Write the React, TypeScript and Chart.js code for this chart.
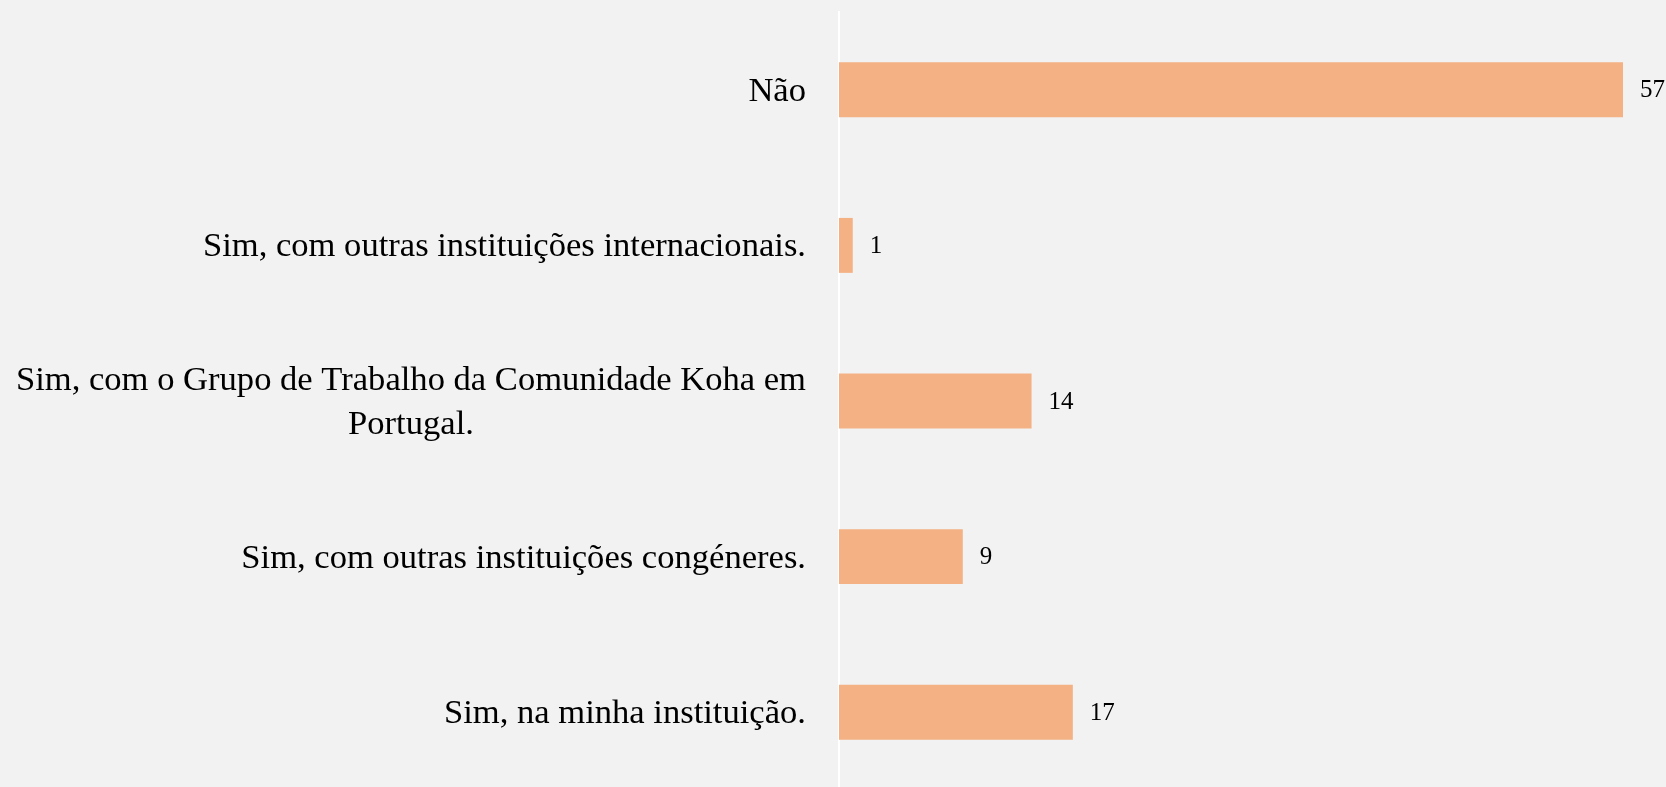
import React, { useEffect, useRef } from "react";
import { Chart, registerables } from "chart.js";

Chart.register(...registerables);

const categories: string[][] = [
  ["Não"],
  ["Sim, com outras instituições internacionais."],
  ["Sim, com o Grupo de Trabalho da Comunidade Koha em", "Portugal."],
  ["Sim, com outras instituições congéneres."],
  ["Sim, na minha instituição."],
];
const values: number[] = [57, 1, 14, 9, 17];

const barColor = "#F4B183";
const bgColor = "#F2F2F2";
const textColor = "#000000";
const labelFont = "34.6px 'Liberation Serif', serif";
const valueFont = "25px 'Liberation Serif', serif";
const labelLineHeight = 44;
const labelGap = 33;
const labelShift = 2;
const valueGap = 17;

const textPlugin = {
  id: "customText",
  afterDraw(chart: any) {
    const ctx = chart.ctx;
    const yScale = chart.scales.y;
    const right = chart.chartArea.left - labelGap;
    ctx.save();
    ctx.fillStyle = textColor;
    ctx.textBaseline = "middle";
    ctx.font = labelFont;
    ctx.textAlign = "center";
    categories.forEach((lines, i) => {
      const cy = yScale.getPixelForTick(i) + labelShift;
      const w = Math.max(...lines.map((l) => ctx.measureText(l).width));
      const cx = right - w / 2;
      lines.forEach((l, j) => {
        ctx.fillText(l, cx, cy + (j - (lines.length - 1) / 2) * labelLineHeight);
      });
    });
    ctx.font = valueFont;
    ctx.textAlign = "left";
    const meta = chart.getDatasetMeta(0);
    meta.data.forEach((bar: any, i: number) => {
      ctx.fillText(String(values[i]), bar.x + valueGap, bar.y + 1);
    });
    ctx.restore();
  },
};

export default function App() {
  const canvasRef = useRef<HTMLCanvasElement | null>(null);

  useEffect(() => {
    document.body.style.margin = "0";
    const canvas = canvasRef.current;
    if (!canvas) return;
    const chart = new Chart(canvas, {
      type: "bar",
      data: {
        labels: categories as any,
        datasets: [
          {
            data: values,
            backgroundColor: barColor,
            borderWidth: 0,
            barPercentage: 0.353,
            categoryPercentage: 1,
          },
        ],
      },
      options: {
        indexAxis: "y",
        animation: false,
        responsive: true,
        maintainAspectRatio: false,
        layout: { padding: { top: 12, right: 43, bottom: 0, left: 0 } },
        plugins: {
          legend: { display: false },
          tooltip: { enabled: false },
        },
        scales: {
          x: {
            display: false,
            min: 0,
            max: 57,
          },
          y: {
            ticks: { display: false },
            grid: { display: false },
            border: { display: true, color: "#FFFFFF", width: 2 },
            afterFit: (scale: any) => {
              scale.width = 839;
            },
          },
        },
      },
      plugins: [textPlugin],
    });
    return () => chart.destroy();
  }, []);

  return (
    <div style={{ width: 1666, height: 787, overflow: "hidden", background: bgColor }}>
      <div style={{ position: "relative", width: 1666, height: 790 }}>
        <canvas ref={canvasRef} />
      </div>
    </div>
  );
}
